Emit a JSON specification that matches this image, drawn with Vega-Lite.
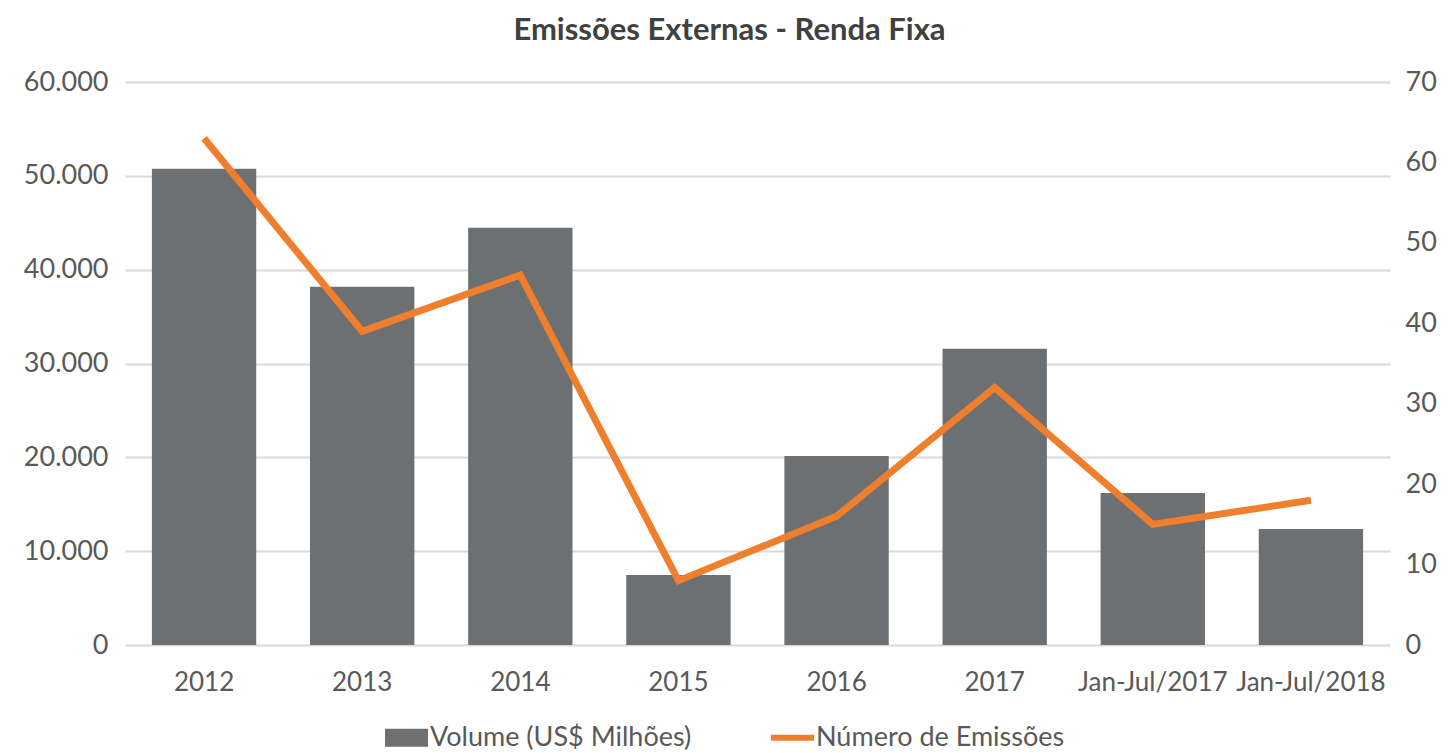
{
  "$schema": "https://vega.github.io/schema/vega-lite/v6.json",
  "width": 1265,
  "height": 563,
  "autosize": {"type": "none"},
  "padding": {"left": 125, "top": 82, "right": 59, "bottom": 108},
  "background": "white",
  "config": {
    "locale": {"number": {"decimal": ",", "thousands": ".", "grouping": [3], "currency": ["R$", ""]}},
    "font": "Lato",
    "view": {"stroke": null}
  },
  "title": {
    "text": "Emissões Externas - Renda Fixa",
    "fontSize": 31,
    "font": "Lato",
    "fontWeight": "bold",
    "color": "#404040",
    "offset": 21,
    "dx": -28
  },
  "data": {
    "values": [
      {"periodo": "2012", "volume": 50750, "emissoes": 63},
      {"periodo": "2013", "volume": 38170, "emissoes": 39},
      {"periodo": "2014", "volume": 44460, "emissoes": 46},
      {"periodo": "2015", "volume": 7460, "emissoes": 8},
      {"periodo": "2016", "volume": 20150, "emissoes": 16},
      {"periodo": "2017", "volume": 31560, "emissoes": 32},
      {"periodo": "Jan-Jul/2017", "volume": 16200, "emissoes": 15},
      {"periodo": "Jan-Jul/2018", "volume": 12370, "emissoes": 18}
    ]
  },
  "encoding": {
    "x": {
      "field": "periodo",
      "type": "nominal",
      "sort": null,
      "scale": {"paddingInner": 0.34, "paddingOuter": 0.17},
      "axis": {
        "title": null,
        "labelAngle": 0,
        "ticks": false,
        "domain": false,
        "labelFontSize": 26,
        "labelColor": "#595959",
        "labelPadding": 24
      }
    }
  },
  "layer": [
    {
      "mark": {"type": "bar"},
      "encoding": {
        "y": {
          "field": "volume",
          "type": "quantitative",
          "scale": {"domain": [0, 60000]},
          "axis": {
            "title": null,
            "values": [0, 10000, 20000, 30000, 40000, 50000, 60000],
            "format": ",d",
            "ticks": false,
            "domain": false,
            "grid": true,
            "gridColor": "#D9D9D9",
            "gridWidth": 2,
            "labelFontSize": 27,
            "labelColor": "#595959",
            "labelPadding": 17
          }
        },
        "color": {
          "datum": "Volume (US$ Milhões)",
          "type": "nominal",
          "scale": {
            "domain": ["Volume (US$ Milhões)", "Número de Emissões"],
            "range": ["#6D7072", "#F07F2D"]
          },
          "legend": {
            "orient": "none",
            "legendX": 268,
            "legendY": 642,
            "direction": "horizontal",
            "title": null,
            "labelFontSize": 27,
            "labelColor": "#595959",
            "labelLimit": 0,
            "labelOffset": 10,
            "symbolSize": 1850,
            "columnPadding": 66,
            "encode": {
              "symbols": {
                "update": {
                  "shape": {"signal": "datum.label === 'Número de Emissões' ? 'stroke' : 'M-1,-0.42H1V0.42H-1Z'"},
                  "fill": {"signal": "scale('color', datum.value)"},
                  "stroke": {"signal": "scale('color', datum.value)"},
                  "strokeWidth": {"signal": "datum.label === 'Número de Emissões' ? 6 : 0"},
                  "opacity": {"value": 1}
                }
              }
            }
          }
        }
      }
    },
    {
      "mark": {"type": "line", "strokeWidth": 7},
      "encoding": {
        "y": {
          "field": "emissoes",
          "type": "quantitative",
          "scale": {"domain": [0, 70]},
          "axis": {
            "orient": "right",
            "title": null,
            "values": [0, 10, 20, 30, 40, 50, 60, 70],
            "ticks": false,
            "domain": false,
            "grid": false,
            "labelFontSize": 27,
            "labelColor": "#595959",
            "labelPadding": 15
          }
        },
        "color": {"datum": "Número de Emissões", "type": "nominal"}
      }
    }
  ],
  "resolve": {"scale": {"y": "independent"}}
}
